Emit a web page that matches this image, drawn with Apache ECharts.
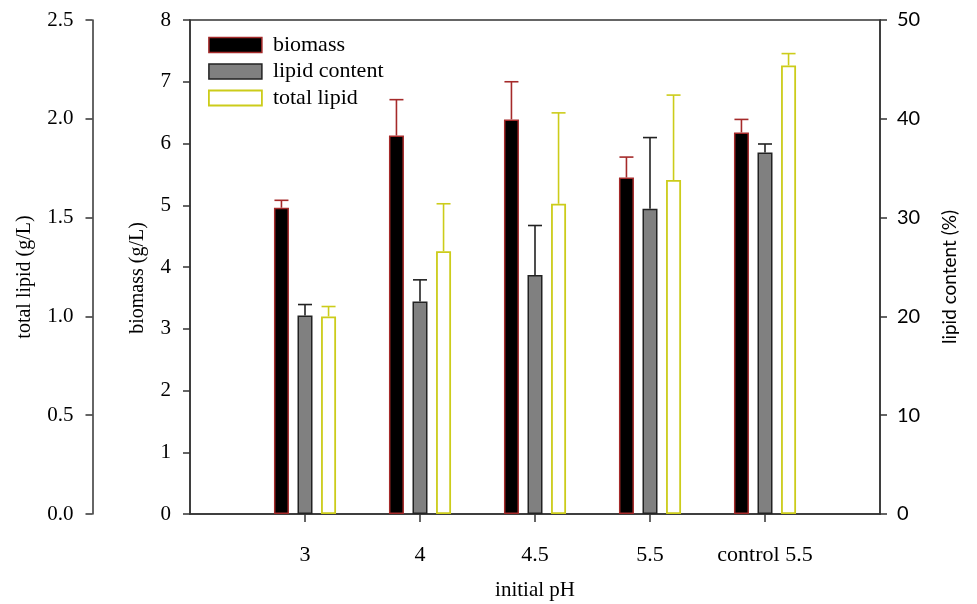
<!DOCTYPE html>
<html>
<head>
<meta charset="utf-8">
<script src="https://cdn.jsdelivr.net/npm/echarts@6/dist/echarts.min.js"></script>
<style>html,body{margin:0;padding:0;background:#fff}#c{width:977px;height:604px}</style>
</head>
<body>
<div id="c"></div>
<script>
// ---- data ----
var categories = ['3', '4', '4.5', '5.5', 'control 5.5'];
var biomass = [4.96, 6.13, 6.39, 5.45, 6.18];          // g/L
var biomassErr = [0.12, 0.58, 0.61, 0.33, 0.21];
var lipidContent = [20.1, 21.5, 24.2, 30.9, 36.6];     // %
var lipidContentErr = [1.1, 2.2, 5.0, 7.2, 0.85];
var totalLipid = [1.0, 1.33, 1.57, 1.69, 2.27];        // g/L
var totalLipidErr = [0.05, 0.24, 0.46, 0.43, 0.06];
var biomassTicks = [0, 8, 1];
var totalLipidTicks = [0, 2.5, 0.5];
var lipidContentTicks = [0, 50, 10];

// ---- styling constants ----
var SERIF = 'Liberation Serif';
var SANS = 'Lato';
var BAR_W = 15, BAR_GAP = 0.57;
var RED = '#a52a2a', DARK = '#222222', YEL = '#cccc1a';
var TXT = '#000';

var axisData = [''].concat(categories).concat(['']);
function pad(arr) { return [null].concat(arr).concat([null]); }
function errData(vals, errs) {
  return vals.map(function (v, i) { return [i + 1, v, errs[i]]; });
}
function errSeries(name, yIdx, vals, errs, color, slot) {
  return {
    type: 'custom', name: name + '_err', yAxisIndex: yIdx, z: 5,
    data: errData(vals, errs), silent: true,
    renderItem: function (params, api) {
      var off = (slot - 1) * BAR_W * (1 + BAR_GAP);
      var b = api.coord([api.value(0), api.value(1)]);
      var t = api.coord([api.value(0), api.value(1) + api.value(2)]);
      var x = b[0] + off;
      var st = { stroke: color, lineWidth: 1.6 };
      return { type: 'group', children: [
        { type: 'line', shape: { x1: x, y1: b[1], x2: x, y2: t[1] }, style: st },
        { type: 'line', shape: { x1: x - 7, y1: t[1], x2: x + 7, y2: t[1] }, style: st }
      ]};
    }
  };
}
var axisLineStyle = { color: '#333', width: 1.5 };

var chart = echarts.init(document.getElementById('c'));
chart.setOption({
  animation: false,
  backgroundColor: '#fff',
  grid: { left: 190, right: 97, top: 20, bottom: 90, containLabel: false, outerBoundsMode: 'none',
          show: true, borderColor: '#333', borderWidth: 1.5, backgroundColor: 'transparent' },
  legend: {
    orient: 'vertical', left: 203, top: 29, itemWidth: 53, itemHeight: 15, itemGap: 4.5,
    icon: 'rect', selectedMode: false,
    textStyle: { fontFamily: SERIF, fontSize: 22, color: TXT, padding: [0, 0, 0, 6] },
    data: [
      { name: 'biomass', itemStyle: { color: '#000', borderColor: RED, borderWidth: 1.5 } },
      { name: 'lipid content', itemStyle: { color: '#808080', borderColor: DARK, borderWidth: 1.5 } },
      { name: 'total lipid', itemStyle: { color: '#fff', borderColor: YEL, borderWidth: 1.8 } }
    ]
  },
  xAxis: {
    type: 'category', data: axisData, boundaryGap: false,
    name: 'initial pH', nameLocation: 'middle', nameGap: 66,
    nameTextStyle: { fontFamily: SERIF, fontSize: 21, color: TXT },
    axisLine: { lineStyle: axisLineStyle },
    axisTick: { length: 8, lineStyle: axisLineStyle, interval: function (i, v) { return v !== ''; } },
    axisLabel: { fontFamily: SERIF, fontSize: 22, color: TXT, margin: 30, interval: 0 },
    splitLine: { show: false }
  },
  yAxis: [
    {
      type: 'value', position: 'left', min: biomassTicks[0], max: biomassTicks[1], interval: biomassTicks[2],
      name: 'biomass (g/L)', nameLocation: 'middle', nameGap: 42, nameRotate: 90,
      nameTextStyle: { fontFamily: SERIF, fontSize: 20, color: TXT, padding: [0, 22, 0, 0] },
      axisLine: { show: true, lineStyle: axisLineStyle },
      axisTick: { show: true, length: 7, lineStyle: axisLineStyle },
      axisLabel: { fontFamily: SERIF, fontSize: 21, color: TXT, margin: 19 },
      splitLine: { show: false }
    },
    {
      type: 'value', position: 'left', offset: 97.5, min: totalLipidTicks[0], max: totalLipidTicks[1], interval: totalLipidTicks[2],
      name: 'total lipid (g/L)', nameLocation: 'middle', nameGap: 58, nameRotate: 90,
      nameTextStyle: { fontFamily: SERIF, fontSize: 20, color: TXT, padding: [0, 20, 0, 0] },
      axisLine: { show: true, lineStyle: axisLineStyle },
      axisTick: { show: true, length: 7, lineStyle: axisLineStyle },
      axisLabel: { fontFamily: SERIF, fontSize: 21, color: TXT, margin: 19, formatter: function (v) { return v.toFixed(1); } },
      splitLine: { show: false }
    },
    {
      type: 'value', position: 'right', min: lipidContentTicks[0], max: lipidContentTicks[1], interval: lipidContentTicks[2],
      name: 'lipid content (%)', nameLocation: 'middle', nameGap: 60, nameRotate: 90,
      nameTextStyle: { fontFamily: SANS, fontSize: 19, color: TXT, padding: [0, 20, 0, 0] },
      axisLine: { show: true, lineStyle: axisLineStyle },
      axisTick: { show: true, length: 7, lineStyle: axisLineStyle },
      axisLabel: { fontFamily: SANS, fontSize: 20, color: TXT, margin: 17 },
      splitLine: { show: false }
    }
  ],
  series: [
    { type: 'bar', name: 'biomass', yAxisIndex: 0, data: pad(biomass), barWidth: BAR_W, barGap: (BAR_GAP * 100) + '%',
      itemStyle: { color: '#000', borderColor: RED, borderWidth: 1.5 } },
    { type: 'bar', name: 'lipid content', yAxisIndex: 2, data: pad(lipidContent), barWidth: BAR_W, barGap: (BAR_GAP * 100) + '%',
      itemStyle: { color: '#808080', borderColor: DARK, borderWidth: 1.5 } },
    { type: 'bar', name: 'total lipid', yAxisIndex: 1, data: pad(totalLipid), barWidth: BAR_W, barGap: (BAR_GAP * 100) + '%',
      itemStyle: { color: '#fff', borderColor: YEL, borderWidth: 1.8 } },
    errSeries('biomass', 0, biomass, biomassErr, RED, 0),
    errSeries('lipid content', 2, lipidContent, lipidContentErr, DARK, 1),
    errSeries('total lipid', 1, totalLipid, totalLipidErr, YEL, 2)
  ]
});
</script>
</body>
</html>
